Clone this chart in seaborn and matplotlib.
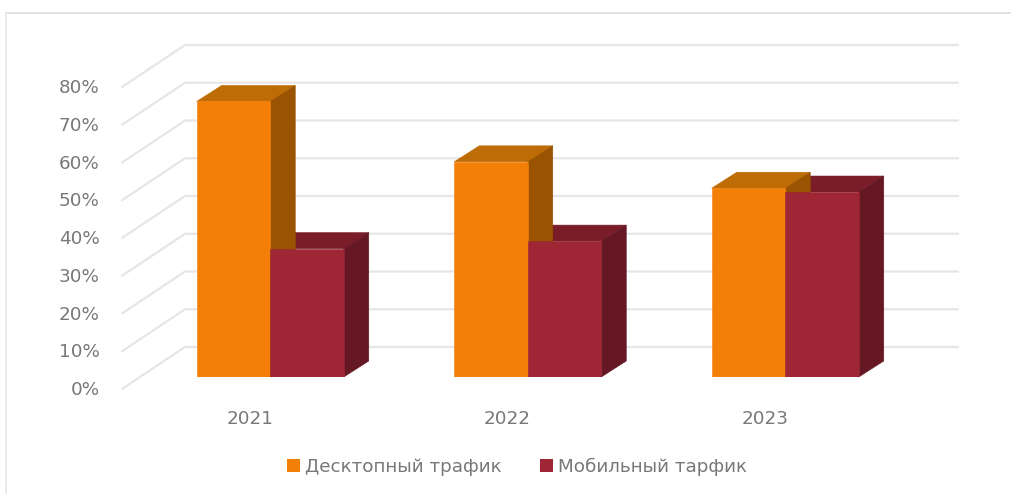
import matplotlib
matplotlib.use("Agg")
import matplotlib.pyplot as plt
from matplotlib.lines import Line2D
from matplotlib.patches import Polygon
from matplotlib.transforms import ScaledTranslation
import pandas as pd
import seaborn as sns

years = ["2021", "2022", "2023"]
series_names = ["Десктопный трафик", "Мобильный тарфик"]
desktop = [73, 57, 50]
mobile = [34, 36, 49]
percent_ticks = [0, 10, 20, 30, 40, 50, 60, 70, 80]

W, H = 1011, 494
ORANGE = ("#F47F08", "#BE6C06", "#9A5300")
RED = ("#9E2635", "#7A1D29", "#651823")
TEXT = "#787878"
GRID = "#e6e6e6"
FS = 13.2

sns.set_theme(style="white")
plt.rcParams["font.family"] = ["DejaVu Sans"]

df = pd.DataFrame({
    "year": years * 2,
    "series": [series_names[0]] * 3 + [series_names[1]] * 3,
    "value": desktop + mobile,
})

fig = plt.figure(figsize=(W / 100, H / 100), dpi=100, facecolor="white")
ax = fig.add_axes([141.5 / W, (H - 377) / H, (914 - 141.5) / W, 302 / H])
sns.barplot(data=df, x="year", y="value", hue="series",
            palette=[ORANGE[0], RED[0]], width=0.571, gap=0, saturation=1,
            errorbar=None, ax=ax, zorder=5, linewidth=0)
ax.set_xlim(-0.5, 2.5)
ax.set_ylim(0, 80)
ax.set_yticks(percent_ticks)
ax.set_yticklabels([f"{v}%" for v in percent_ticks])
ax.set_xlabel("")
ax.set_ylabel("")
ax.patch.set_alpha(0)
sns.despine(ax=ax, left=True, bottom=True)
ax.tick_params(axis="both", length=0, labelsize=FS, labelcolor=TEXT)
ax.tick_params(axis="y", pad=30)
ax.tick_params(axis="x", pad=24)

# Offsets in pixels, turned into data units by the axes' own scale
bbox = ax.get_window_extent()
sx = (ax.get_xlim()[1] - ax.get_xlim()[0]) / bbox.width
sy = (ax.get_ylim()[1] - ax.get_ylim()[0]) / bbox.height

# Perspective wall and floor gridlines
x0, x1 = ax.get_xlim()
for v in percent_ticks:
    xs = [x0 - 19.5 * sx, x0 + 43.5 * sx, x1 + 44 * sx]
    ys = [v - 12 * sy, v + 30 * sy, v + 30 * sy]
    ax.plot(xs, ys, color=GRID, lw=1.6, clip_on=False, zorder=1,
            solid_joinstyle="miter")

# Depth faces of each bar
DX, DY = 25 * sx, 16 * sy


def faces(rect, colors, z):
    x, w, h = rect.get_x(), rect.get_width(), rect.get_height()
    top = [(x, h), (x + DX, h + DY), (x + w + DX, h + DY), (x + w, h)]
    side = [(x + w, 0), (x + w + DX, DY), (x + w + DX, h + DY), (x + w, h)]
    ax.add_patch(Polygon(top, closed=True, fc=colors[1], ec=colors[1], lw=0.4, zorder=z, clip_on=False))
    ax.add_patch(Polygon(side, closed=True, fc=colors[2], ec=colors[2], lw=0.4, zorder=z, clip_on=False))


for rect in ax.containers[1]:
    faces(rect, RED, 3)
for rect in ax.containers[0]:
    faces(rect, ORANGE, 4)
for rect in ax.containers[0]:
    rect.set_edgecolor(ORANGE[0])
    rect.set_linewidth(0.4)
for rect in ax.containers[1]:
    rect.set_zorder(6)
    rect.set_edgecolor(RED[0])
    rect.set_linewidth(0.4)

# Tick labels sit on the front plane
dpi = fig.dpi
for lab in ax.get_yticklabels():
    lab.set_transform(lab.get_transform() + ScaledTranslation(0, -11 / dpi, fig.dpi_scale_trans))
for lab in ax.get_xticklabels():
    lab.set_transform(lab.get_transform() + ScaledTranslation(-20.5 / dpi, 0, fig.dpi_scale_trans))

# Legend
handles, labels = ax.get_legend_handles_labels()
leg = ax.legend(handles, labels, loc="center", ncol=2, frameon=False,
                bbox_to_anchor=(517 / W, (H - 467) / H), bbox_transform=fig.transFigure,
                fontsize=FS, labelcolor=TEXT, handlelength=0.7, handleheight=0.7,
                handletextpad=0.27, columnspacing=2.1, borderpad=0)

# Picture frame: top and left edges
fig.add_artist(Line2D([6 / W, 1], [(H - 13) / H] * 2, color="#dddddd", lw=1.2))
fig.add_artist(Line2D([6 / W, 6 / W], [0, (H - 13) / H], color="#e8e8e8", lw=1.2))

fig.savefig("out.png", dpi=100)
